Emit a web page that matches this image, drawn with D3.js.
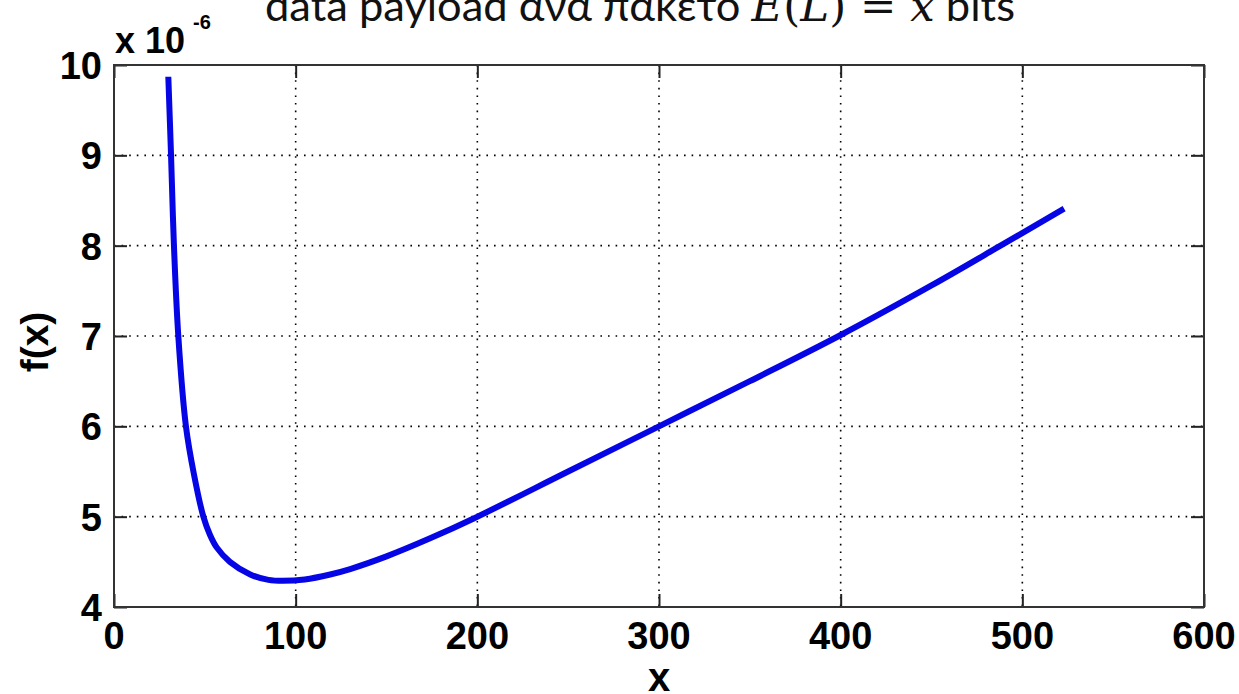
<!DOCTYPE html>
<html>
<head>
<meta charset="utf-8">
<script src="https://cdn.jsdelivr.net/npm/d3@7"></script>
<style>
  html, body { margin: 0; padding: 0; background: #fff; }
  svg { display: block; }
  .tick-label { font-family: "Liberation Sans", Arial, sans-serif; font-weight: bold; font-size: 38px; fill: #000; }
</style>
</head>
<body>
<div id="vis"></div>
<script>
// values (y in units of 1e-6)
const xValues = [29.9, 31.4, 33, 35.4, 39.6, 44, 49.2, 52.8, 56.5, 63.8, 75, 85, 93, 105, 119, 130, 150, 174, 198, 250, 300, 350, 399, 450, 488, 523]
const yValues = [9.87, 9, 8, 7, 6, 5.47, 5, 4.8, 4.66, 4.5, 4.36, 4.3, 4.29, 4.305, 4.36, 4.42, 4.56, 4.76, 4.98, 5.5, 6, 6.5, 7, 7.56, 8, 8.41]
const xTicks = [0, 100, 200, 300, 400, 500, 600]
const yTicks = [4, 5, 6, 7, 8, 9, 10]

const W = 1239, H = 694
const margin = { top: 65, right: 35, bottom: 87, left: 114 }
const width = W - margin.left - margin.right
const height = H - margin.top - margin.bottom

const svg = d3.select('#vis')
    .append('svg')
    .attr('width', W)
    .attr('height', H)

// title, cut off at the top edge as in the source image
const title = svg.append('text')
    .attr('x', 265)
    .attr('y', 21)
    .style('font-family', 'Lato, "Open Sans", sans-serif')
    .style('font-size', '42px')
    .style('fill', '#111')
title.append('tspan').text('data payload ανά πακέτο ')
title.append('tspan').style('font-family', '"DejaVu Serif", serif').style('font-style', 'italic').text('E')
title.append('tspan').style('font-family', '"DejaVu Serif", serif').text('(')
title.append('tspan').style('font-family', '"DejaVu Serif", serif').style('font-style', 'italic').text('L')
title.append('tspan').style('font-family', '"DejaVu Serif", serif').text(') = ')
title.append('tspan').style('font-family', '"DejaVu Serif", serif').style('font-style', 'italic').text('x')
title.append('tspan').text(' bits')
title.attr('textLength', 750).attr('lengthAdjust', 'spacingAndGlyphs')

const g = svg.append('g')
    .attr('transform', `translate(${margin.left},${margin.top})`)

const xScale = d3.scaleLinear().domain([0, 600]).range([0, width])
const yScale = d3.scaleLinear().domain([4, 10]).range([height, 0])

// grid
g.append('g')
    .selectAll('line')
    .data(xTicks.slice(1, -1))
    .join('line')
    .attr('x1', d => xScale(d)).attr('x2', d => xScale(d))
    .attr('y1', 0).attr('y2', height)
    .style('stroke', '#000')
    .style('stroke-width', 1.6)
    .style('stroke-dasharray', '1.6,6')

g.append('g')
    .selectAll('line')
    .data(yTicks.slice(1, -1))
    .join('line')
    .attr('x1', 0).attr('x2', width)
    .attr('y1', d => yScale(d)).attr('y2', d => yScale(d))
    .style('stroke', '#000')
    .style('stroke-width', 1.6)
    .style('stroke-dasharray', '1.6,6')

// inward ticks on all four sides
const tickLen = 13
g.append('g').call(d3.axisBottom(xScale).tickValues(xTicks).tickSize(-tickLen).tickFormat(''))
    .attr('transform', `translate(0,${height})`)
g.append('g').call(d3.axisTop(xScale).tickValues(xTicks).tickSize(-tickLen).tickFormat(''))
g.append('g').call(d3.axisLeft(yScale).tickValues(yTicks).tickSize(-tickLen).tickFormat(''))
g.append('g').call(d3.axisRight(yScale).tickValues(yTicks).tickSize(-tickLen).tickFormat(''))
    .attr('transform', `translate(${width},0)`)
g.selectAll('.domain').remove()
g.selectAll('.tick line').style('stroke', '#222').style('stroke-width', 2)

g.append('rect')
    .attr('width', width)
    .attr('height', height)
    .style('fill', 'none')
    .style('stroke', '#333')
    .style('stroke-width', 2)

// tick labels
g.selectAll('.xlab')
    .data(xTicks)
    .join('text')
    .attr('class', 'tick-label')
    .attr('x', d => xScale(d))
    .attr('y', height + 42)
    .attr('text-anchor', 'middle')
    .text(d => d)

g.selectAll('.ylab')
    .data(yTicks)
    .join('text')
    .attr('class', 'tick-label')
    .attr('x', -12)
    .attr('y', d => yScale(d) + 14)
    .attr('text-anchor', 'end')
    .text(d => d)

// exponent
g.append('text')
    .attr('class', 'tick-label')
    .attr('x', 1)
    .attr('y', -12)
    .style('font-size', '36px')
    .text('x 10')
g.append('text')
    .attr('class', 'tick-label')
    .attr('x', 79)
    .attr('y', -36)
    .style('font-size', '20px')
    .text('-6')

// axis labels
svg.append('text')
    .attr('class', 'tick-label')
    .attr('x', margin.left + width / 2)
    .attr('y', 691)
    .attr('text-anchor', 'middle')
    .style('font-size', '40px')
    .text('x')

svg.append('text')
    .attr('class', 'tick-label')
    .attr('transform', 'translate(48,342) rotate(-90)')
    .attr('text-anchor', 'middle')
    .style('font-size', '39px')
    .text('f(x)')

// curve
const data = xValues.map((x, i) => ({ x: x, y: yValues[i] }))
const line = d3.line()
    .x(d => xScale(d.x))
    .y(d => yScale(d.y))
    .curve(d3.curveCatmullRom.alpha(0.5))

g.append('path')
    .datum(data)
    .attr('d', line)
    .style('fill', 'none')
    .style('stroke', '#0505e6')
    .style('stroke-width', 6)
    .style('stroke-linejoin', 'round')
</script>
</body>
</html>
